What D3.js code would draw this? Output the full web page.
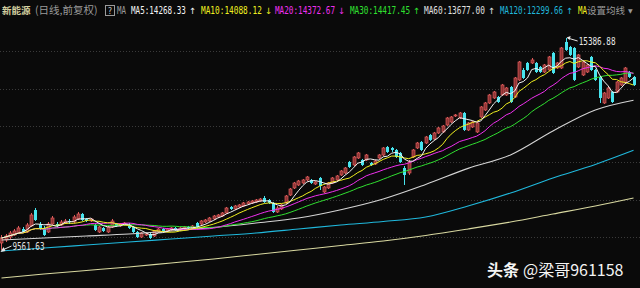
<!DOCTYPE html>
<html>
<head>
<meta charset="utf-8">
<script src="https://cdn.jsdelivr.net/npm/d3@7"></script>
<style>
html, body { margin: 0; padding: 0; background: #0a0a0a; overflow: hidden; }
svg { display: block; }
</style>
</head>
<body>
<div id="viz"></div>
<script>
var width = 640, height = 288;

// daily bars (index points)
var opens = [
 9754, 9837, 9919, 9974, 10029, 10139, 10057, 10222, 10661, 10276,
 10167, 10057, 10276, 10276, 10249, 10304, 10359, 10331, 10414, 10551,
 10414, 10359, 10249, 10057, 10167, 10057, 10194, 10276, 10222, 10249,
 10249, 10194, 10057, 9919, 9974, 10002, 9947, 10057, 10139, 10084,
 10112, 10167, 10112, 10139, 10194, 10167, 10304, 10276, 10331, 10359,
 10414, 10469, 10496, 10579, 10744, 10689, 10744, 10771, 10826, 10854,
 10881, 10909, 10991, 10936, 10854, 10606, 10689, 10854, 11073, 11266,
 11348, 11403, 11486, 11486, 11376, 11541, 11156, 11266, 11403, 11486,
 11623, 11678, 11980, 11898, 12090, 12035, 12035, 11953, 11925, 12090,
 12173, 12392, 12365, 12310, 12228, 11815, 11678, 12118, 12365, 12530,
 12502, 12722, 12612, 12777, 12805, 12997, 13079, 13244, 13189, 13327,
 12860, 12942, 12805, 13217, 13409, 13602, 13739, 13766, 13821, 13821,
 14041, 13766, 14234, 14508, 14701, 14701, 14701, 14591, 14453, 14508,
 14976, 14563, 14563, 15278, 15140, 15113, 14591, 14371, 14453, 14866,
 14508, 14316, 13602, 13739, 13904, 13904, 14096, 14151, 14453, 14316
];
var closes = [
 9892, 9947, 10029, 10084, 10167, 10057, 10249, 10524, 10386, 10139,
 9974, 10276, 10441, 10222, 10331, 10359, 10331, 10469, 10551, 10386,
 10359, 10414, 10112, 10194, 10084, 10194, 10359, 10222, 10276, 10304,
 10167, 10057, 9919, 10029, 10002, 9892, 10084, 10139, 10084, 10139,
 10167, 10112, 10167, 10194, 10167, 10222, 10194, 10359, 10386, 10441,
 10496, 10524, 10579, 10716, 10689, 10771, 10799, 10854, 10881, 10909,
 10936, 10963, 10881, 10854, 10606, 10716, 10799, 11046, 11238, 11403,
 11458, 11486, 11568, 11403, 11431, 11321, 11293, 11403, 11541, 11596,
 11733, 11815, 11843, 12118, 12228, 11898, 12173, 11898, 12008, 12173,
 12365, 12255, 12310, 12118, 11980, 11623, 11980, 12310, 12502, 12310,
 12667, 12585, 12777, 12915, 12970, 13189, 13217, 13272, 13327, 12860,
 13052, 13079, 13052, 13492, 13602, 13821, 13904, 13629, 14096, 14014,
 13629, 14289, 14728, 14289, 14508, 14783, 14453, 14453, 14646, 14866,
 14426, 14701, 15113, 15058, 14921, 14234, 14921, 14728, 14646, 14508,
 14234, 13739, 13876, 14014, 13629, 14179, 14289, 14563, 14316, 14096
];
var highs = [
 9974, 10002, 10084, 10139, 10222, 10194, 10304, 10579, 10716, 10331,
 10222, 10331, 10496, 10331, 10386, 10414, 10414, 10524, 10606, 10579,
 10441, 10441, 10276, 10222, 10194, 10222, 10414, 10304, 10304, 10331,
 10304, 10222, 10084, 10057, 10029, 10029, 10112, 10167, 10167, 10167,
 10194, 10194, 10194, 10222, 10222, 10249, 10331, 10386, 10414, 10469,
 10524, 10551, 10606, 10744, 10771, 10799, 10826, 10881, 10909, 10936,
 10963, 10991, 11046, 10963, 10881, 10771, 10826, 11073, 11266, 11431,
 11486, 11513, 11596, 11513, 11458, 11568, 11321, 11431, 11568, 11623,
 11760, 11843, 12008, 12145, 12255, 12063, 12200, 11980, 12035, 12200,
 12392, 12420, 12392, 12337, 12255, 11870, 12035, 12337, 12530, 12557,
 12695, 12750, 12805, 12942, 12997, 13217, 13244, 13299, 13354, 13354,
 13079, 13107, 13079, 13519, 13629, 13849, 13931, 13794, 14124, 14041,
 14069, 14316, 14756, 14563, 14728, 14838, 14728, 14618, 14673, 14893,
 15003, 14728, 15140, 15386.88, 15168, 15140, 14948, 14756, 14673, 14893,
 14536, 14344, 13904, 14041, 13931, 14206, 14316, 14591, 14481, 14344
];
var lows = [
 9561.63, 9782, 9864, 9947, 10002, 10029, 10029, 10194, 10359, 10112,
 9947, 10029, 10249, 10194, 10222, 10276, 10276, 10304, 10386, 10359,
 10331, 10331, 10084, 10029, 10057, 10029, 10167, 10194, 10194, 10222,
 10139, 10029, 9892, 9892, 9947, 9864, 9919, 10029, 10057, 10057,
 10084, 10084, 10084, 10112, 10139, 10139, 10167, 10249, 10304, 10331,
 10386, 10441, 10469, 10551, 10661, 10661, 10716, 10744, 10799, 10826,
 10854, 10881, 10854, 10826, 10579, 10579, 10661, 10826, 11046, 11238,
 11321, 11376, 11458, 11376, 11348, 11211, 11128, 11238, 11376, 11458,
 11596, 11650, 11815, 11870, 12063, 11870, 12008, 11870, 11898, 12063,
 12145, 12228, 12255, 12090, 11953, 11348, 11623, 12090, 12337, 12283,
 12475, 12557, 12585, 12750, 12777, 12970, 13052, 13217, 13162, 12832,
 12832, 12915, 12777, 13189, 13382, 13574, 13711, 13602, 13794, 13794,
 13602, 13739, 14206, 14261, 14481, 14673, 14426, 14426, 14426, 14481,
 14398, 14536, 14536, 15031, 14893, 14206, 14563, 14344, 14426, 14481,
 14206, 13602, 13574, 13711, 13602, 13876, 14069, 14124, 14289, 14069
];

// long moving averages, read every 10 bars
var longIdx = [0, 10, 20, 30, 40, 50, 60, 70, 80, 90, 100, 110, 120, 130, 140, 149];
var ma60  = [9837, 9892, 9947, 10002, 10084, 10180, 10304, 10441, 10669, 10963, 11362, 11804, 12173, 12832, 13409, 13677];
var ma120 = [9535, 9617, 9699, 9782, 9864, 9947, 10029, 10139, 10249, 10345, 10469, 10771, 11128, 11541, 11912, 12299.66];
var ma250 = [8793, 8902, 8999, 9095, 9205, 9315, 9438, 9562, 9686, 9809, 9960, 10139, 10331, 10551, 10771, 10991];

var gridPrices = [9919, 10936, 11980, 12970, 13986, 15031];

var maNames  = ["MA5", "MA10", "MA20", "MA30", "MA60", "MA120"];
var maValues = ["14268.33", "14088.12", "14372.67", "14417.45", "13677.00", "12299.66"];
var maArrows = ["↑", "↓", "↓", "↑", "↑", "↑"];
var maColors = ["#f4f4f4", "#f0f020", "#f030f0", "#30e030", "#e0e0e0", "#20b8dc"];
var ma250Color = "#d8d8a0";

var svg = d3.select("#viz").append("svg")
	.attr("width", width)
	.attr("height", height);

svg.append("rect").attr("width", width).attr("height", height).attr("fill", "#0a0a0a");

var x = d3.scaleBand().domain(d3.range(closes.length)).range([0, 635]).paddingInner(0.3);
var y = d3.scaleLinear().domain([d3.min(lows), d3.max(highs)]).range([250, 38]);
var bw = x.bandwidth();
function cx(i){ return x(i) + bw / 2; }

// narrow mono text: font size picked so the natural width is w, then stretched upright
function monoText(parent, str, tx, ty, w, color){
	var fs = w / (str.length * 0.602);
	return parent.append("text")
		.attr("transform", "translate(" + tx + "," + ty + ") scale(1,1.3)")
		.attr("font-family", "DejaVu Sans Mono").attr("font-size", fs)
		.attr("fill", color).text(str);
}

// grid
svg.selectAll("line.grid").data(gridPrices).enter().append("line")
	.attr("class", "grid")
	.attr("x1", 0).attr("x2", width)
	.attr("y1", function(d){ return Math.round(y(d)) + 0.5; })
	.attr("y2", function(d){ return Math.round(y(d)) + 0.5; })
	.attr("stroke", "#3a3a3a")
	.attr("stroke-dasharray", "1,2");

// candles
var bars = d3.range(closes.length).map(function(i){
	return {i: i, o: opens[i], c: closes[i], h: highs[i], l: lows[i]};
});
var upStroke = "#e05c5c", upFill = "#8c3434", dnFill = "#48e4ee";

var g = svg.append("g");
g.selectAll("line.wick").data(bars).enter().append("line")
	.attr("x1", function(d){ return Math.round(cx(d.i)) + 0.5; })
	.attr("x2", function(d){ return Math.round(cx(d.i)) + 0.5; })
	.attr("y1", function(d){ return y(d.h); })
	.attr("y2", function(d){ return y(d.l); })
	.attr("stroke", function(d){ return d.c >= d.o ? upStroke : dnFill; })
	.attr("stroke-width", 1);
g.selectAll("rect.body").data(bars).enter().append("rect")
	.attr("x", function(d){ return Math.round(cx(d.i)) - 1; })
	.attr("width", 3)
	.attr("y", function(d){ return y(Math.max(d.o, d.c)); })
	.attr("height", function(d){ return Math.max(1, Math.abs(y(d.o) - y(d.c))); })
	.attr("fill", function(d){ return d.c >= d.o ? upFill : dnFill; })
	.attr("stroke", function(d){ return d.c >= d.o ? upStroke : "none"; })
	.attr("stroke-width", 0.7);

// moving averages
function movingAvg(n){
	return closes.map(function(c, i){
		return d3.mean(closes.slice(Math.max(0, i - n + 1), i + 1));
	});
}
var shortLine = d3.line()
	.x(function(d, i){ return cx(i); })
	.y(function(d){ return y(d); });
var longLine = d3.line()
	.x(function(d, k){ return cx(longIdx[k]); })
	.y(function(d){ return y(d); })
	.curve(d3.curveMonotoneX);

[[ma250, ma250Color], [ma120, maColors[5]], [ma60, "#d4d4d4"]].forEach(function(s){
	svg.append("path").attr("d", longLine(s[0]))
		.attr("fill", "none").attr("stroke", s[1]).attr("stroke-width", 1.1);
});
[[30, 3], [20, 2], [10, 1], [5, 0]].forEach(function(s){
	svg.append("path").attr("d", shortLine(movingAvg(s[0])))
		.attr("fill", "none").attr("stroke", maColors[s[1]]).attr("stroke-width", 1);
});

// high / low markers
var hi = d3.maxIndex(highs), lo = d3.minIndex(lows);
var hx = cx(hi), hy = y(highs[hi]);
svg.append("line").attr("x1", hx + 2).attr("y1", hy).attr("x2", hx + 12).attr("y2", hy + 3)
	.attr("stroke", "#e8e8e8").attr("stroke-width", 1);
svg.append("path").attr("d", "M" + (hx + 1) + "," + (hy - 0.5) + "l4,-1.5l-1,4z").attr("fill", "#e8e8e8");
monoText(svg, d3.format(".2f")(highs[hi]), hx + 13, hy + 7, 37, "#e8e8e8");

var lx = cx(lo), ly = y(lows[lo]);
svg.append("line").attr("x1", lx + 1).attr("y1", ly).attr("x2", lx + 10).attr("y2", ly - 4)
	.attr("stroke", "#e8e8e8").attr("stroke-width", 1);
svg.append("path").attr("d", "M" + (lx - 1) + "," + (ly + 2) + "l3,-5l2,4z").attr("fill", "#e8e8e8");
monoText(svg, d3.format(".2f")(lows[lo]), lx + 11, ly, 32, "#e0e0e0");

// header
var head = svg.append("g");
head.append("text").attr("x", 2).attr("y", 14)
	.attr("font-family", "Noto Sans CJK SC").attr("font-size", 9.5).attr("font-weight", "bold")
	.attr("fill", "#d4d0a0").text("新能源");
head.append("text").attr("x", 35).attr("y", 14)
	.attr("font-family", "Noto Sans CJK SC").attr("font-size", 10.5)
	.attr("fill", "#9a9a9a").text("(日线,前复权)");
head.append("rect").attr("x", 105.5).attr("y", 5.5).attr("width", 9).attr("height", 10)
	.attr("fill", "none").attr("stroke", "#9a9a9a");
head.append("text").attr("x", 110).attr("y", 14).attr("text-anchor", "middle")
	.attr("font-family", "DejaVu Sans Mono").attr("font-size", 8).attr("fill", "#c8c8c8").text("?");
monoText(head, "MA", 117, 14, 9, "#9a9a9a");

var itemX = [131, 201, 275, 350, 424, 500];
var itemW = [55, 61, 60, 60, 61, 63];
maNames.forEach(function(n, k){
	monoText(head, n + ":" + maValues[k], itemX[k], 14, itemW[k], maColors[k]);
	head.append("text").attr("x", itemX[k] + itemW[k] + 3).attr("y", 14)
		.attr("font-family", "DejaVu Sans").attr("font-size", 8.5)
		.attr("fill", maColors[k]).text(maArrows[k]);
});
monoText(head, "MA", 578, 14, 9, "#f0f020");
head.append("text").attr("x", 587).attr("y", 14)
	.attr("font-family", "Noto Sans CJK SC").attr("font-size", 9.5)
	.attr("fill", "#9a9a9a").text("设置均线");
head.append("text").attr("x", 628).attr("y", 13)
	.attr("font-family", "DejaVu Sans").attr("font-size", 6)
	.attr("fill", "#9a9a9a").text("▼");

// watermark
var wm = svg.append("text").attr("x", 487).attr("y", 276)
	.attr("font-family", "Noto Sans CJK SC").attr("font-size", 16).attr("fill", "#f4f4f4");
wm.append("tspan").attr("font-weight", "bold").text("头条");
wm.append("tspan").attr("dx", 4).text("@梁哥961158");
</script>
</body>
</html>
